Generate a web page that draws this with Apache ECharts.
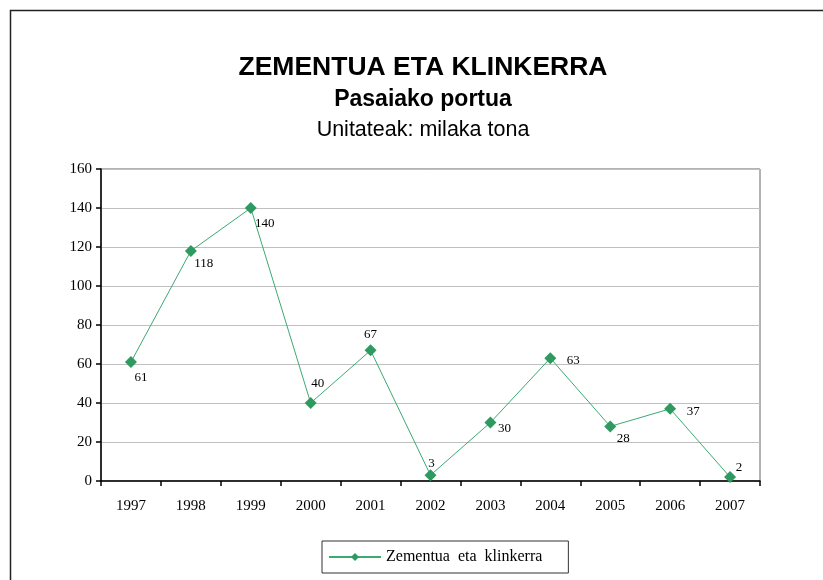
<!DOCTYPE html>
<html>
<head>
<meta charset="utf-8">
<script src="https://cdn.jsdelivr.net/npm/echarts@6/dist/echarts.min.js"></script>
<style>html,body{margin:0;padding:0;background:#fff}#c{width:823px;height:580px}</style>
</head>
<body>
<div id="c"></div>
<script>
const categories = ['1997','1998','1999','2000','2001','2002','2003','2004','2005','2006','2007'];
const values = [61, 118, 140, 40, 67, 3, 30, 63, 28, 37, 2];
const seriesName = 'Zementua  eta  klinkerra';
const yTicks = {min: 0, max: 160, interval: 20};
const labelOffsets = [[10,16],[13,13],[14,16],[7,-19],[0,-16],[1,-12],[14,6],[23,2],[13,12],[23,3],[9,-10]];

const chart = echarts.init(document.getElementById('c'), null, {renderer: 'canvas'});
const serif = '"Liberation Serif", "Times New Roman", serif';
const sans = '"Liberation Sans", Arial, sans-serif';
chart.setOption({
  animation: false,
  backgroundColor: '#fff',
  graphic: [{
    type: 'rect', shape: {x: 10.5, y: 10.5, width: 830, height: 620},
    style: {fill: 'none', stroke: '#222', lineWidth: 1.5}, silent: true, z: -1
  }],
  title: [
    {text: 'ZEMENTUA ETA KLINKERRA', left: 418, textAlign: 'center', top: 49,
     textStyle: {fontFamily: sans, fontWeight: 'bold', fontSize: 26.5, color: '#000'}},
    {text: 'Pasaiako portua', left: 418, textAlign: 'center', top: 83,
     textStyle: {fontFamily: sans, fontWeight: 'bold', fontSize: 23, color: '#000'}},
    {text: 'Unitateak: milaka tona', left: 418, textAlign: 'center', top: 114,
     textStyle: {fontFamily: sans, fontWeight: 'normal', fontSize: 21.5, color: '#000'}}
  ],
  legend: {
    left: 322, top: 541, orient: 'horizontal',
    borderColor: '#333', borderWidth: 1, padding: [8, 26, 8, 6],
    itemWidth: 52, itemHeight: 10, itemGap: 5,
    textStyle: {fontFamily: serif, fontSize: 16, color: '#000'},
    data: [seriesName]
  },
  grid: {left: 101, right: 63, top: 169, bottom: 99, show: true,
    borderColor: '#666', borderWidth: 1, backgroundColor: 'transparent'},
  xAxis: {
    type: 'category', data: categories, boundaryGap: true,
    axisLine: {lineStyle: {color: '#000', width: 1.5}},
    axisTick: {show: true, inside: false, length: 5, lineStyle: {color: '#000', width: 1.5}},
    axisLabel: {margin: 18, fontFamily: serif, fontSize: 15, color: '#000'},
    splitLine: {show: false}
  },
  yAxis: {
    type: 'value', min: yTicks.min, max: yTicks.max, interval: yTicks.interval,
    axisLine: {show: true, lineStyle: {color: '#000', width: 1.5}},
    axisTick: {show: true, inside: false, length: 5, lineStyle: {color: '#000', width: 1.5}},
    axisLabel: {margin: 9, fontFamily: serif, fontSize: 15, color: '#000'},
    splitLine: {show: true, lineStyle: {color: '#c0c0c0', width: 1.2}}
  },
  series: [{
    name: seriesName, type: 'line',
    data: values.map((v, i) => ({value: v, label: {offset: labelOffsets[i]}})),
    symbol: 'diamond', symbolSize: 12,
    itemStyle: {color: '#2E9A60'},
    lineStyle: {color: '#3DAA72', width: 1},
    label: {show: true, position: 'inside', fontFamily: serif, fontSize: 13, color: '#000'}
  }]
});
</script>
</body>
</html>
